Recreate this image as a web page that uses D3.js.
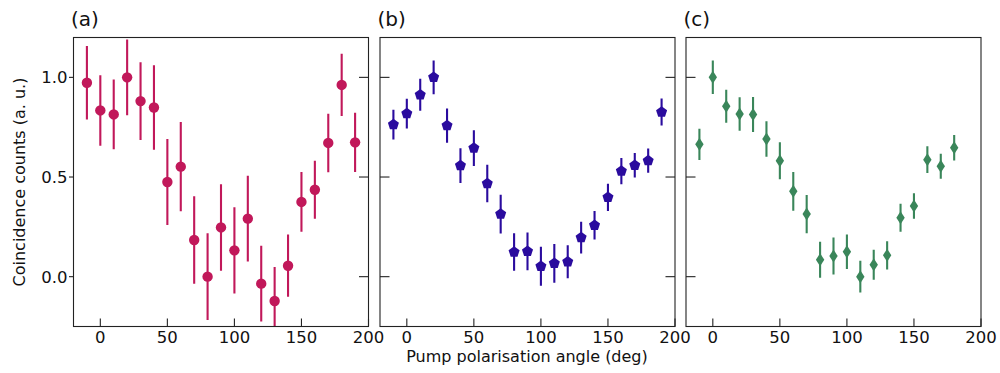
<!DOCTYPE html>
<html>
<head>
<meta charset="utf-8">
<script src="https://cdn.jsdelivr.net/npm/d3@7"></script>
<style>
  body { margin: 0; padding: 0; background: #fff; }
  text { font-family: "DejaVu Sans", sans-serif; }
</style>
</head>
<body>
<div class="canvas"></div>
<script>
"use strict";

// angles in degrees
const anglesA = [-10, 0, 10, 20, 30, 40, 50, 60, 70, 80, 90, 100, 110, 120, 130, 140, 150, 160, 170, 180, 190];
const countsA = [0.973, 0.834, 0.814, 1.0, 0.881, 0.849, 0.475, 0.552, 0.184, 0.0, 0.247, 0.132, 0.291, -0.035, -0.122, 0.055, 0.375, 0.436, 0.671, 0.962, 0.674];
const errA = [0.184, 0.177, 0.175, 0.19, 0.195, 0.212, 0.216, 0.224, 0.219, 0.218, 0.217, 0.216, 0.215, 0.19, 0.17, 0.156, 0.15, 0.145, 0.147, 0.156, 0.149];

const anglesB = [-10, 0, 10, 20, 30, 40, 50, 60, 70, 80, 90, 100, 110, 120, 130, 140, 150, 160, 170, 180, 190];
const countsB = [0.763, 0.818, 0.913, 1.0, 0.758, 0.557, 0.645, 0.467, 0.314, 0.124, 0.127, 0.052, 0.067, 0.075, 0.196, 0.258, 0.398, 0.53, 0.559, 0.582, 0.826];
const errB = [0.075, 0.075, 0.08, 0.085, 0.086, 0.087, 0.09, 0.094, 0.097, 0.094, 0.095, 0.098, 0.097, 0.083, 0.08, 0.072, 0.068, 0.066, 0.062, 0.061, 0.068];

const anglesC = [-10, 0, 10, 20, 30, 40, 50, 60, 70, 80, 90, 100, 110, 120, 130, 140, 150, 160, 170, 180];
const countsC = [0.664, 1.0, 0.855, 0.816, 0.814, 0.691, 0.582, 0.428, 0.314, 0.085, 0.104, 0.125, 0.0, 0.06, 0.107, 0.296, 0.355, 0.587, 0.554, 0.647];
const errC = [0.078, 0.084, 0.083, 0.084, 0.088, 0.089, 0.093, 0.097, 0.096, 0.09, 0.093, 0.087, 0.08, 0.075, 0.071, 0.07, 0.064, 0.067, 0.063, 0.064];

const xTicks = [0, 50, 100, 150, 200];
const yTicks = [0.0, 0.5, 1.0];
const yTickLabels = ["0.0", "0.5", "1.0"];

const W = 1000;
const H = 373;
const plotTop = 37.5;
const plotBottom = 326.5;
const panelW = 295;

const svg = d3
  .select(".canvas")
  .append("svg")
  .attr("width", W)
  .attr("height", H)
  .style("background-color", "#fff");

const y = d3.scaleLinear().domain([-0.25, 1.2]).range([plotBottom, plotTop]);

const panels = [
  { id: "a", left: 73.5, xs: anglesA, ys: countsA, es: errA, color: "#c1185a", marker: "circle", ticksL: "out", ticksR: true, labels: true },
  { id: "b", left: 380, xs: anglesB, ys: countsB, es: errB, color: "#2a0b9e", marker: "pentagon", ticksL: "in", ticksR: true, labels: false },
  { id: "c", left: 686, xs: anglesC, ys: countsC, es: errC, color: "#3a865a", marker: "diamond", ticksL: "in", ticksR: false, labels: false },
];

function markerPath(kind) {
  if (kind === "circle") return d3.symbol().type(d3.symbolCircle).size(Math.PI * 5.2 * 5.2)();
  if (kind === "pentagon") {
    const r = 5.8;
    const pts = [];
    for (let k = 0; k < 5; k++) {
      const a = -Math.PI / 2 + (k * 2 * Math.PI) / 5;
      pts.push([r * Math.cos(a), r * Math.sin(a)]);
    }
    return "M" + pts.map((p) => p.join(",")).join("L") + "Z";
  }
  // thin diamond
  return "M0,-6.5L4.2,0L0,6.5L-4.2,0Z";
}

panels.forEach((p) => {
  const x = d3.scaleLinear().domain([-20, 200]).range([p.left, p.left + panelW]);
  const g = svg.append("g");

  g.append("clipPath")
    .attr("id", "clip-" + p.id)
    .append("rect")
    .attr("x", p.left)
    .attr("y", plotTop)
    .attr("width", panelW)
    .attr("height", plotBottom - plotTop);

  const data = p.xs.map((d, i) => ({ x: d, y: p.ys[i], e: p.es[i] }));
  const plot = g.append("g").attr("clip-path", `url(#clip-${p.id})`);

  plot
    .selectAll("line.err")
    .data(data)
    .enter()
    .append("line")
    .attr("class", "err")
    .attr("x1", (d) => x(d.x))
    .attr("x2", (d) => x(d.x))
    .attr("y1", (d) => y(d.y - d.e))
    .attr("y2", (d) => y(d.y + d.e))
    .attr("stroke", p.color)
    .attr("stroke-width", 2.1);

  plot
    .selectAll("path.pt")
    .data(data)
    .enter()
    .append("path")
    .attr("class", "pt")
    .attr("d", markerPath(p.marker))
    .attr("transform", (d) => `translate(${x(d.x)},${y(d.y)})`)
    .attr("fill", p.color);

  // frame
  g.append("rect")
    .attr("x", p.left)
    .attr("y", plotTop)
    .attr("width", panelW)
    .attr("height", plotBottom - plotTop)
    .attr("fill", "none")
    .attr("stroke", "#222")
    .attr("stroke-width", 1.1);

  // x ticks (inward) and labels
  xTicks.forEach((t) => {
    g.append("line")
      .attr("x1", x(t))
      .attr("x2", x(t))
      .attr("y1", plotBottom)
      .attr("y2", plotBottom - 8)
      .attr("stroke", "#222")
      .attr("stroke-width", 1.1);
    g.append("text")
      .attr("x", x(t))
      .attr("y", 343)
      .attr("text-anchor", "middle")
      .attr("fill", "#111")
      .style("font-size", "16.5px")
      .text(t);
  });

  // y ticks
  yTicks.forEach((t, i) => {
    if (p.ticksL === "out") {
      g.append("line")
        .attr("x1", p.left - 4.5)
        .attr("x2", p.left)
        .attr("y1", y(t))
        .attr("y2", y(t))
        .attr("stroke", "#222")
        .attr("stroke-width", 1.1);
    } else {
      g.append("line")
        .attr("x1", p.left)
        .attr("x2", p.left + 9.5)
        .attr("y1", y(t))
        .attr("y2", y(t))
        .attr("stroke", "#222")
        .attr("stroke-width", 1.1);
    }
    if (p.ticksR) {
      g.append("line")
        .attr("x1", p.left + panelW - 9.5)
        .attr("x2", p.left + panelW)
        .attr("y1", y(t))
        .attr("y2", y(t))
        .attr("stroke", "#222")
        .attr("stroke-width", 1.1);
    }
    if (p.labels) {
      g.append("text")
        .attr("x", p.left - 6)
        .attr("y", y(t))
        .attr("dy", "0.36em")
        .attr("text-anchor", "end")
        .attr("fill", "#111")
        .style("font-size", "16.5px")
        .text(yTickLabels[i]);
    }
  });

  // panel letter
  g.append("text")
    .attr("x", p.left - 2.5)
    .attr("y", 26)
    .attr("fill", "#111")
    .style("font-size", "20px")
    .text(`(${p.id})`);
});

svg
  .append("text")
  .attr("x", 527)
  .attr("y", 361.5)
  .attr("text-anchor", "middle")
  .attr("fill", "#111")
  .style("font-size", "16px")
  .text("Pump polarisation angle (deg)");

svg
  .append("text")
  .attr("transform", "translate(25,182) rotate(-90)")
  .attr("text-anchor", "middle")
  .attr("fill", "#111")
  .style("font-size", "16px")
  .text("Coincidence counts (a. u.)");
</script>
</body>
</html>
